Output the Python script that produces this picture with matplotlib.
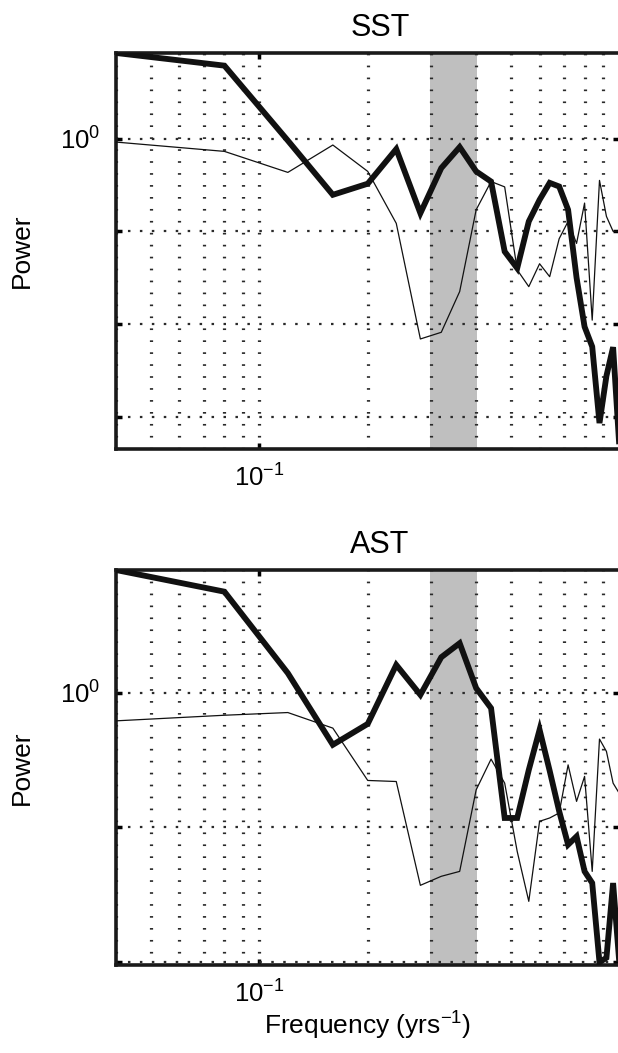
import matplotlib
matplotlib.use("Agg")
import matplotlib.pyplot as plt
from matplotlib.ticker import NullLocator, NullFormatter

plt.rcParams['font.family'] = ['Liberation Sans', 'DejaVu Sans']
plt.rcParams['mathtext.fontset'] = 'custom'
plt.rcParams['mathtext.rm'] = 'Liberation Sans'
plt.rcParams['mathtext.default'] = 'regular'
plt.rcParams['lines.scale_dashes'] = False

# frequencies (1/yr) of the spectral estimates
freq = [0.04, 0.08, 0.12, 0.16, 0.20, 0.24, 0.28, 0.32, 0.36, 0.40,
        0.44, 0.48, 0.52, 0.56, 0.60, 0.64, 0.68, 0.72, 0.76, 0.80,
        0.84, 0.88, 0.92, 0.96, 1.00]

# SST spectra (thick / thin)
sst_thick = [8.43, 6.15, 0.955, 0.248, 0.327, 0.773, 0.157, 0.482, 0.813, 0.444,
             0.345, 0.0605, 0.040, 0.128, 0.219, 0.334, 0.305, 0.171, 0.0316, 0.00933,
             0.00569, 0.000851, 0.00275, 0.00562, 0.000447]
sst_thin = [0.920, 0.730, 0.433, 0.855, 0.444, 0.122, 0.00689, 0.00813, 0.0224, 0.171,
            0.345, 0.302, 0.0384, 0.0253, 0.0447, 0.0324, 0.0832, 0.128, 0.0741, 0.202,
            0.0110, 0.355, 0.145, 0.100, 0.100]

# AST spectra (thick / thin)
ast_thick = [8.11, 5.60, 1.393, 0.410, 0.586, 1.603, 0.962, 1.828, 2.323, 1.079,
             0.766, 0.1175, 0.1175, 0.267, 0.530, 0.263, 0.132, 0.0745, 0.0857, 0.0472,
             0.0387, 0.0100, 0.0108, 0.0387, 0.00955]
ast_thin = [0.617, 0.679, 0.711, 0.545, 0.223, 0.219, 0.0372, 0.0434, 0.0472, 0.190,
            0.321, 0.213, 0.0664, 0.0283, 0.111, 0.1175, 0.128, 0.291, 0.156, 0.239,
            0.0472, 0.452, 0.366, 0.213, 0.178]

# shaded frequency band
band = [0.297, 0.403]

panels = [('SST', sst_thick, sst_thin, [1e-3, 1e-2, 1e-1, 1e0]),
          ('AST', ast_thick, ast_thin, [1e-2, 1e-1, 1e0])]

fig = plt.figure(figsize=(6.18, 10.53), dpi=100)
positions = [[0.1877, 0.5736, 0.8147, 0.3761],
             [0.1877, 0.0836, 0.8147, 0.3751]]

for (name, thick, thin, yt), pos in zip(panels, positions):
    ax = fig.add_axes(pos)
    ax.set_xscale('log')
    ax.set_yscale('log')
    ax.set_axisbelow('line')

    ax.axvspan(band[0], band[1], color='#bfbfbf', lw=0, zorder=1)
    ax.plot(freq, thin, color='#111111', lw=0.9, zorder=3)
    ax.plot(freq, thick, color='#111111', lw=4.2, zorder=4,
            solid_joinstyle='miter')

    allv = thick + thin
    ax.set_xlim(freq[0], freq[-1])
    ax.set_ylim(min(allv), max(allv))

    ax.set_xticks([0.1], [r'$10^{-1}$'])
    ax.xaxis.set_minor_formatter(NullFormatter())
    ax.set_yticks(yt, ['$10^{0}$' if v == 1 else '' for v in yt])
    ax.yaxis.set_minor_locator(NullLocator())

    # short wide dashes, like the original's rendering
    ax.grid(True, which='both', axis='x', color='#2a2a2a',
            linestyle=(0, (1.2, 7.4)), linewidth=2.3)
    ax.grid(True, which='major', axis='y', color='#2a2a2a',
            linestyle=(0, (1.8, 6.8)), linewidth=1.6)

    ax.tick_params(which='major', direction='in', length=4, width=2.5,
                   top=True, right=True, labelsize=18.5, pad=11)
    ax.tick_params(which='minor', length=0)
    for sp in ax.spines.values():
        sp.set_linewidth(2.6)
        sp.set_color('#1a1a1a')

    ax.set_title(name, fontsize=22, x=0.524, pad=12)
    ax.set_ylabel('Power', fontsize=19)
    ax.yaxis.set_label_coords(-0.163, 0.5)

ax.set_xlabel('Frequency (yrs$^{-1}$)', fontsize=19)
ax.xaxis.set_label_coords(0.5005, -0.114)

fig.savefig('out.png', dpi=100)
